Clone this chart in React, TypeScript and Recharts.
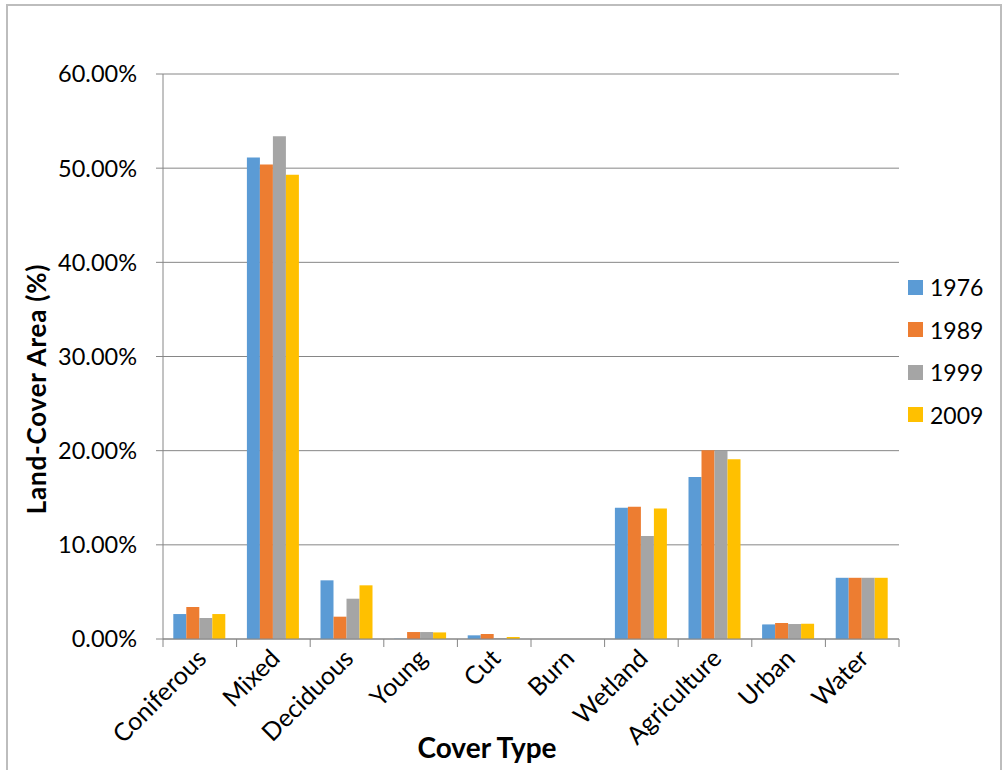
import { BarChart, Bar, XAxis, YAxis, CartesianGrid, Legend, Label } from 'recharts'

const coverTypes = ['Coniferous', 'Mixed', 'Deciduous', 'Young', 'Cut', 'Burn', 'Wetland', 'Agriculture', 'Urban', 'Water']
const years = ['1976', '1989', '1999', '2009']
const area1976 = [2.65, 51.13, 6.23, 0.03, 0.39, 0, 13.95, 17.2, 1.55, 6.5]
const area1989 = [3.4, 50.38, 2.37, 0.74, 0.53, 0, 14.05, 20.04, 1.7, 6.5]
const area1999 = [2.23, 53.4, 4.28, 0.74, 0.1, 0, 10.93, 19.97, 1.59, 6.5]
const area2009 = [2.65, 49.29, 5.7, 0.7, 0.2, 0, 13.85, 19.1, 1.62, 6.5]
const yTicks = [0, 10, 20, 30, 40, 50, 60]

const COLORS = ['#5b9bd5', '#ed7d31', '#a5a5a5', '#ffc000']
const FONT = 'Lato, "Open Sans", sans-serif'
const AXIS_GRAY = '#868686'

const series = [area1976, area1989, area1999, area2009]
const data = coverTypes.map((name, i) => {
  const row: Record<string, number | string> = { name }
  years.forEach((y, j) => { row[y] = series[j][i] })
  return row
})

// tick marks sit on the category boundaries; names are rotated and end under the bar group
function CategoryTick({ x, y, payload, index }: any) {
  const half = payload.offset ?? 0
  const axisY = y - 2
  const tx = x + 8
  const ty = 660
  return (
    <g>
      <line x1={x - half} x2={x - half} y1={axisY} y2={axisY + 8} stroke={AXIS_GRAY} />
      {index === coverTypes.length - 1 && (
        <line x1={x + half} x2={x + half} y1={axisY} y2={axisY + 8} stroke={AXIS_GRAY} />
      )}
      <text x={tx} y={ty} transform={`rotate(-45, ${tx}, ${ty})`} textAnchor="end"
        fontFamily={FONT} fontSize={25} fill="#000">
        {payload.value}
      </text>
    </g>
  )
}

function YearLegend() {
  return (
    <div style={{ fontFamily: FONT, fontSize: 23, color: '#000' }}>
      {years.map((y, i) => (
        <div key={y} style={{ display: 'flex', alignItems: 'center', height: 42.5 }}>
          <span style={{ width: 15, height: 15, background: COLORS[i], marginRight: 7 }} />
          <span>{y}</span>
        </div>
      ))}
    </div>
  )
}

export default function App() {
  return (
    <div style={{ position: 'absolute', left: 0, top: 0, width: 1005, height: 770, overflow: 'hidden', background: '#fff' }}>
      <div style={{ position: 'absolute', left: 6, top: 4, width: 992, height: 800, border: '2px solid #bdbdbd' }} />
      <BarChart width={1005} height={770} data={data}
        margin={{ top: 74, right: 106, bottom: 130, left: 63 }}
        barCategoryGap="14%" barGap={0}>
        <CartesianGrid vertical={false} stroke={AXIS_GRAY} />
        <XAxis dataKey="name" interval={0} height={1} tickLine={false} tickSize={0} tickMargin={2}
          axisLine={{ stroke: AXIS_GRAY }} tick={<CategoryTick />}>
          <Label content={() => (
            <text x={487} y={758} textAnchor="middle" fontFamily={FONT} fontSize={28} fontWeight="bold">Cover Type</text>
          )} />
        </XAxis>
        <YAxis width={100} domain={[0, 60]} ticks={yTicks} interval={0}
          tickFormatter={(v: number) => `${v.toFixed(2)}%`}
          tick={{ fontFamily: FONT, fontSize: 23.5, fill: '#000' }}
          tickSize={7} tickMargin={19}
          axisLine={{ stroke: AXIS_GRAY }} tickLine={{ stroke: AXIS_GRAY }}>
          <Label content={() => (
            <text x={46} y={389} transform="rotate(-90, 46, 389)" textAnchor="middle"
              fontFamily={FONT} fontSize={26} fontWeight="bold" letterSpacing={0.8}>Land-Cover Area (%)</text>
          )} />
        </YAxis>
        <Legend layout="horizontal" verticalAlign="middle" content={<YearLegend />}
          wrapperStyle={{ position: 'absolute', left: 908, top: 266, width: 90 }} />
        {years.map((y, i) => (
          <Bar key={y} dataKey={y} fill={COLORS[i]} isAnimationActive={false} />
        ))}
      </BarChart>
    </div>
  )
}
